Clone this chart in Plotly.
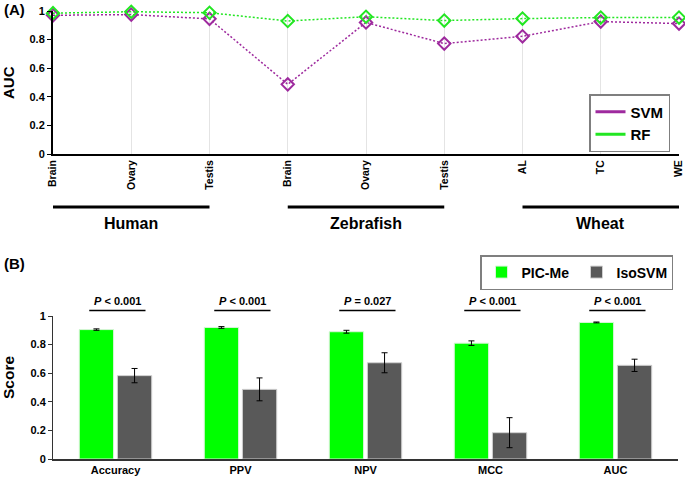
import plotly.graph_objects as go

# ---------------- data ----------------
tissues = ["Brain", "Ovary", "Testis", "Brain", "Ovary", "Testis", "AL", "TC", "WE"]
groups = ["Human", "Zebrafish", "Wheat"]
group_size = 3
svm_auc = [0.97, 0.975, 0.945, 0.487, 0.92, 0.772, 0.823, 0.926, 0.912]
rf_auc = [0.985, 0.995, 0.988, 0.93, 0.96, 0.933, 0.947, 0.954, 0.954]

metrics = ["Accuracy", "PPV", "NPV", "MCC", "AUC"]
pic_me = [0.905, 0.92, 0.89, 0.81, 0.955]
pic_me_err = [0.005, 0.006, 0.01, 0.016, 0.003]
isosvm = [0.583, 0.487, 0.673, 0.184, 0.655]
isosvm_err = [0.05, 0.08, 0.07, 0.105, 0.043]
p_values = ["&lt; 0.001", "&lt; 0.001", "= 0.027", "&lt; 0.001", "&lt; 0.001"]

W, H = 685, 478
FONT = "Liberation Sans, Arial, sans-serif"
PURPLE = "#9E2A9E"
LGREEN = "#22E622"
BGREEN = "#00FF00"
GRAY = "#595959"


def px(x):
    return x / W


def py(y):
    return (H - y) / H


fig = go.Figure()

x_idx = list(range(len(tissues)))
fig.add_trace(go.Scatter(
    x=x_idx, y=svm_auc, mode="lines+markers", name="SVM", showlegend=False,
    line=dict(color=PURPLE, width=1.5, dash="2px,2px"),
    marker=dict(symbol="diamond-open", size=9.5, color=PURPLE, line=dict(width=2, color=PURPLE)),
    cliponaxis=False, xaxis="x", yaxis="y"))
fig.add_trace(go.Scatter(
    x=x_idx, y=rf_auc, mode="lines+markers", name="RF", showlegend=False,
    line=dict(color=LGREEN, width=1.5, dash="2px,2px"),
    marker=dict(symbol="diamond-open", size=9.5, color=LGREEN, line=dict(width=2, color=LGREEN)),
    cliponaxis=False, xaxis="x", yaxis="y"))
# legend-only entries (solid line symbol, as in the reference)
fig.add_trace(go.Scatter(x=[None], y=[None], mode="lines", name="SVM",
                         line=dict(color=PURPLE, width=3), legend="legend",
                         xaxis="x", yaxis="y"))
fig.add_trace(go.Scatter(x=[None], y=[None], mode="lines", name="RF",
                         line=dict(color=LGREEN, width=3), legend="legend",
                         xaxis="x", yaxis="y"))

fig.add_trace(go.Bar(
    x=metrics, y=pic_me, name="PIC-Me", marker=dict(color=BGREEN, line=dict(color="#d8f5d8", width=1)),
    error_y=dict(type="data", array=pic_me_err, color="black", thickness=1, width=3),
    xaxis="x2", yaxis="y2", legend="legend2"))
fig.add_trace(go.Bar(
    x=metrics, y=isosvm, name="IsoSVM", marker=dict(color=GRAY, line=dict(color="#d0d0d0", width=1)),
    error_y=dict(type="data", array=isosvm_err, color="black", thickness=1, width=3),
    xaxis="x2", yaxis="y2", legend="legend2"))

shapes = []
annotations = []

# group brackets under top chart
for gi, g in enumerate(groups):
    a = gi * group_size
    b = a + group_size - 1
    shapes.append(dict(type="line", xref="x", yref="paper", x0=a, x1=b,
                       y0=py(207), y1=py(207), line=dict(color="black", width=3)))
    annotations.append(dict(text="<b>%s</b>" % g, xref="x", yref="paper",
                            x=(a + b) / 2, y=py(223), showarrow=False,
                            xanchor="center", yanchor="middle",
                            font=dict(family=FONT, size=16, color="black")))

# P-value annotations
for i, p in enumerate(p_values):
    shapes.append(dict(type="line", xref="x2", yref="paper", x0=i - 0.21, x1=i + 0.24,
                       y0=py(310.5), y1=py(310.5), line=dict(color="black", width=1.5)))
    annotations.append(dict(text="<b><i>P</i> %s</b>" % p, xref="x2", yref="paper",
                            x=i + 0.015, y=py(301.5), showarrow=False,
                            xanchor="center", yanchor="middle",
                            font=dict(family=FONT, size=11, color="black")))

annotations += [
    dict(text="<b>(A)</b>", xref="paper", yref="paper", x=px(2), y=py(9),
         xanchor="left", yanchor="middle", showarrow=False,
         font=dict(family=FONT, size=15, color="black")),
    dict(text="<b>(B)</b>", xref="paper", yref="paper", x=px(2), y=py(263),
         xanchor="left", yanchor="middle", showarrow=False,
         font=dict(family=FONT, size=15, color="black")),
    dict(text="<b>AUC</b>", xref="paper", yref="paper", x=px(8), y=py(83),
         xanchor="center", yanchor="middle", showarrow=False, textangle=-90,
         font=dict(family=FONT, size=15, color="black")),
    dict(text="<b>Score</b>", xref="paper", yref="paper", x=px(8), y=py(378),
         xanchor="center", yanchor="middle", showarrow=False, textangle=-90,
         font=dict(family=FONT, size=15.5, color="black")),
]

tickfont = dict(family=FONT, size=11, color="black", weight="bold")

fig.update_layout(
    width=W, height=H,
    margin=dict(l=0, r=0, t=0, b=0),
    paper_bgcolor="white", plot_bgcolor="white",
    font=dict(family=FONT, color="black"),
    barmode="group", bargap=0.39, bargroupgap=0.1,
    xaxis=dict(domain=[px(53), px(679)], range=[0, 8], tickmode="array",
               tickvals=x_idx, ticktext=tissues, tickangle=-90,
               tickfont=dict(family=FONT, size=10.5, color="black", weight="bold"),
               showgrid=True, gridcolor="#e4e4e4", gridwidth=1,
               showline=True, linecolor="black", linewidth=2, zeroline=False,
               ticks="", automargin=False, anchor="y"),
    yaxis=dict(domain=[py(154), py(11)], range=[0, 1], dtick=0.2,
               tickfont=tickfont, showgrid=False, zeroline=False,
               showline=True, linecolor="black", linewidth=2,
               ticks="outside", ticklen=4, tickcolor="black", tickwidth=1,
               automargin=False, anchor="x"),
    xaxis2=dict(domain=[px(53), px(678)], range=[-0.5, 4.5],
                tickfont=tickfont, showgrid=False, zeroline=False,
                showline=True, linecolor="#333333", linewidth=1.5, ticks="",
                automargin=False, anchor="y2"),
    yaxis2=dict(domain=[py(459), py(316)], range=[0, 1], dtick=0.2,
                tickfont=tickfont, showgrid=False, zeroline=False,
                showline=True, linecolor="#333333", linewidth=1,
                ticks="outside", ticklen=4, tickcolor="#333333", tickwidth=1,
                automargin=False, anchor="x2"),
    legend=dict(x=px(670), y=py(94), xanchor="right", yanchor="top",
                bgcolor="white", bordercolor="#7f7f7f", borderwidth=1.5,
                font=dict(family=FONT, size=15, color="black", weight="bold"),
                itemwidth=30, tracegroupgap=0),
    legend2=dict(x=px(673), y=py(255), xanchor="right", yanchor="top",
                 orientation="h", bgcolor="white", bordercolor="#7f7f7f", borderwidth=1.5,
                 font=dict(family=FONT, size=14, color="black", weight="bold"),
                 itemwidth=30, entrywidth=50),
    shapes=shapes, annotations=annotations,
)

fig.write_html("out.html",
               config={"displayModeBar": False},
               post_script="document.body.style.margin='0';document.body.style.overflow='hidden';")
